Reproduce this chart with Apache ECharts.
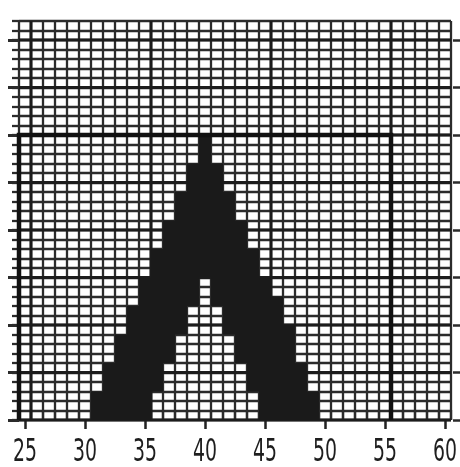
<!DOCTYPE html>
<html><head><meta charset="utf-8">
<script src="https://cdn.jsdelivr.net/npm/echarts@6/dist/echarts.min.js"></script>
<style>html,body{margin:0;padding:0;background:#fff}#c{width:460px;height:467px}</style>
</head><body><div id="c"></div>
<script>
// x-axis tick labels
const xTickLabels = [25, 30, 35, 40, 45, 50, 55, 60];
// histogram columns (class centres) and the filled band [lowerRow, upperRow] in each
const columns  = [31, 32, 33, 34, 35, 36, 37, 38, 39, 40, 41, 42, 43, 44, 45, 46, 47, 48, 49];
const lowerRow = [ 0,  0,  0,  0,  0,  3,  6,  9, 12, 15, 12,  9,  6,  3,  0,  0,  0,  0,  0];
const upperRow = [ 3,  6,  9, 12, 15, 18, 21, 24, 27, 30, 27, 24, 21, 18, 15, 13, 10,  6,  3];
// frame rectangle: left edge, right edge, top row
const frameLeft = [24.5];
const frameRight = [55.5];
const frameTop = [30];
// paper extent
const xRange = [24.5, 60.5];
const yRange = [0, 42];
const majorRows = [0, 5, 10, 15, 20, 25, 30, 35, 40];
const majorCols = [25.5, 35.5, 45.5, 55.5];

const lineColor = '#2b2b2b';
const minorWidth = 2.3;
const labelFont = "'Liberation Sans Narrow', 'DejaVu Sans Condensed', 'Liberation Sans', sans-serif";
const labelSize = 32;
// condense the label glyphs so that a two-digit label is about 24px wide
const mctx = document.createElement('canvas').getContext('2d');
mctx.font = labelSize + 'px ' + labelFont;
const labelScaleX = Math.min(1, 24 / mctx.measureText('25').width);

const chart = echarts.init(document.getElementById('c'), null, {renderer: 'canvas'});
const noAxisLine = {show: false};
chart.setOption({
  animation: false,
  backgroundColor: '#ffffff',
  grid: {left: 19, right: 9, top: 21, bottom: 47},
  xAxis: [
    {type: 'value', min: xRange[0], max: xRange[1], interval: 1, position: 'bottom',
     axisLine: noAxisLine, axisTick: {show: false}, axisLabel: {show: false},
     splitLine: {show: true, lineStyle: {color: lineColor, width: minorWidth}}},
    {type: 'value', min: xRange[0], max: xRange[1], interval: 1, position: 'top',
     axisLine: noAxisLine, axisTick: {show: true, length: 10, lineStyle: {color: lineColor, width: minorWidth}},
     axisLabel: {show: false}, splitLine: {show: false}},
    {type: 'value', min: xRange[0], max: xRange[1], position: 'bottom', offset: 3,
     axisLine: noAxisLine,
     axisTick: {show: true, length: 9, customValues: xTickLabels, lineStyle: {color: '#222', width: 2.5}},
     axisLabel: {show: false},
     splitLine: {show: false}}
  ],
  yAxis: [
    {type: 'value', min: yRange[0], max: yRange[1], interval: 1, position: 'left',
     axisLine: noAxisLine, axisTick: {show: true, length: 7, lineStyle: {color: lineColor, width: minorWidth}},
     axisLabel: {show: false}, splitLine: {show: true, lineStyle: {color: lineColor, width: minorWidth}}},
    {type: 'value', min: yRange[0], max: yRange[1], position: 'right', offset: 2,
     axisLine: noAxisLine, axisTick: {show: true, length: 7, customValues: majorRows, lineStyle: {color: lineColor, width: 2.5}},
     axisLabel: {show: false}, splitLine: {show: false}},
    {type: 'value', min: yRange[0], max: yRange[1], position: 'left',
     axisLine: noAxisLine, axisTick: {show: true, length: 11, customValues: majorRows, lineStyle: {color: lineColor, width: 3}},
     axisLabel: {show: false}, splitLine: {show: false}}
  ],
  series: [
    {type: 'custom', name: 'majorRows', silent: true,
     data: majorRows.map(v => [xRange[0], v]),
     encode: {x: 0, y: 1},
     renderItem: (params, api) => {
       const a = api.coord([xRange[0], api.value(1)]);
       const b = api.coord([xRange[1], api.value(1)]);
       return {type: 'line', shape: {x1: a[0], y1: a[1], x2: b[0], y2: b[1]},
               style: {stroke: '#1c1c1c', lineWidth: 3.2}};
     }},
    {type: 'custom', name: 'majorCols', silent: true,
     data: majorCols.map(v => [v, yRange[0]]),
     encode: {x: 0, y: 1},
     renderItem: (params, api) => {
       const a = api.coord([api.value(0), yRange[0]]);
       const b = api.coord([api.value(0), yRange[1]]);
       return {type: 'line', shape: {x1: a[0], y1: a[1], x2: b[0], y2: b[1]},
               style: {stroke: '#1c1c1c', lineWidth: 3}};
     }},
    {type: 'custom', name: 'histogram', silent: true,
     data: columns.map((c, i) => [c, lowerRow[i], upperRow[i]]),
     encode: {x: 0, y: [1, 2]},
     renderItem: (params, api) => {
       const x = api.value(0), lo = api.value(1), hi = api.value(2);
       const p1 = api.coord([x - 0.5, hi]);
       const p2 = api.coord([x + 0.5, lo]);
       return {type: 'rect', shape: {x: p1[0], y: p1[1], width: p2[0] - p1[0], height: p2[1] - p1[1]},
               style: {fill: '#1a1a1a'}};
     }},
    {type: 'custom', name: 'frame', silent: true,
     data: frameLeft.map((l, i) => [l, frameTop[i], frameRight[i]]),
     encode: {x: 0, y: 1},
     renderItem: (params, api) => {
       const l = api.value(0), t = api.value(1), r = api.value(2);
       const pts = [api.coord([l, yRange[0]]), api.coord([l, t]), api.coord([r, t]), api.coord([r, yRange[0]])];
       return {type: 'polyline', shape: {points: pts},
               style: {stroke: '#111', lineWidth: 4.5, fill: null}};
     }},
    {type: 'custom', name: 'xLabels', silent: true,
     data: xTickLabels.map(v => [v, yRange[0]]),
     encode: {x: 0, y: 1},
     renderItem: (params, api) => {
       const p = api.coord([api.value(0), yRange[0]]);
       return {type: 'text', x: p[0], y: p[1] + 33, scaleX: labelScaleX,
               style: {text: String(api.value(0)), fontSize: labelSize, fontFamily: labelFont,
                       fill: '#1e1e1e', align: 'center', verticalAlign: 'middle'}};
     }}
  ]
});
</script></body></html>
